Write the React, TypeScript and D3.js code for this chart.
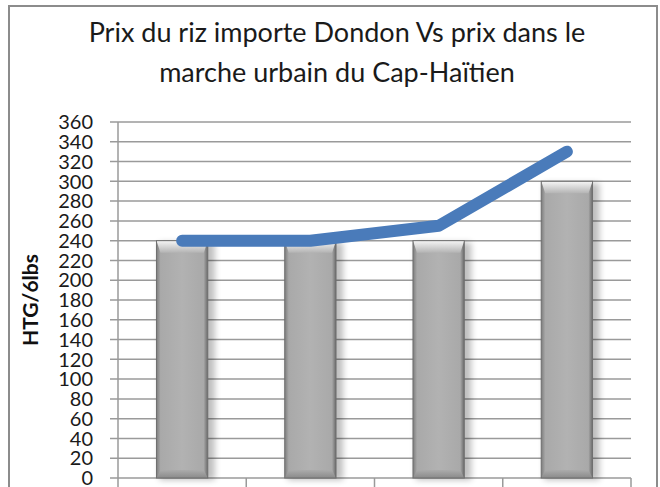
import React from "react";
import * as d3 from "d3";

const categories = ["A", "B", "C", "D"];
const barValues = [240, 240, 240, 300];
const lineValues = [240, 240, 255, 330];
const yTicks = d3.range(0, 361, 20);
const titleLines = ["Prix du riz importe Dondon Vs prix dans le", "marche urbain du Cap-Haïtien"];
const yLabel = "HTG/6lbs";

export default function App() {
  const W = 660, H = 487;
  const left = 118, right = 631, top = 122, bottom = 478;
  const x = d3.scaleBand().domain(categories).range([left, right]).paddingInner(0.6).paddingOuter(0.3);
  const xb = d3.scaleBand().domain(categories).range([left, right]);
  const y = d3.scaleLinear().domain([0, 360]).range([bottom, top]);
  const line = d3.line<number>().x((_, i) => (xb(categories[i]) as number) + xb.bandwidth() / 2).y((d) => y(d));
  const font = "Lato, 'Open Sans', sans-serif";
  return (
    <svg width={W} height={H} style={{ position: "absolute", left: 0, top: 0 }}>
      <defs>
        <linearGradient id="bh" x1="0" x2="1" y1="0" y2="0">
          <stop offset="0" stopColor="#7d7d7d" />
          <stop offset="0.08" stopColor="#a9a9a9" />
          <stop offset="0.5" stopColor="#b2b2b2" />
          <stop offset="0.92" stopColor="#a9a9a9" />
          <stop offset="1" stopColor="#6a6a6a" />
        </linearGradient>
        <linearGradient id="bt" x1="0" x2="0" y1="0" y2="1">
          <stop offset="0" stopColor="#f6f6f6" />
          <stop offset="1" stopColor="#b4b4b4" />
        </linearGradient>
        <linearGradient id="bb" x1="0" x2="0" y1="0" y2="1">
          <stop offset="0" stopColor="#ababab" />
          <stop offset="1" stopColor="#8a8a8a" />
        </linearGradient>
        <filter id="sh" x="-20%" y="-5%" width="150%" height="110%">
          <feGaussianBlur stdDeviation="3" />
        </filter>
      </defs>
      <rect x={0} y={0} width={W} height={H} fill="#fff" />
      <rect x={9} y={6} width={648} height={500} fill="none" stroke="#8c8c8c" strokeWidth={2} />
      {titleLines.map((t, i) => (
        <text key={i} x={337} y={42 + i * 40} textAnchor="middle" fontFamily={font} fontSize={27} fill="#1a1a1a">{t}</text>
      ))}
      {yTicks.map((t) => (
        <g key={t}>
          <line x1={110} x2={right} y1={y(t)} y2={y(t)} stroke="#9a9a9a" strokeWidth={1.5} />
          <text x={93} y={y(t)} dy="0.36em" textAnchor="end" fontFamily={font} fontSize={20} fill="#1a1a1a">{t}</text>
        </g>
      ))}
      <line x1={left} x2={left} y1={top} y2={H} stroke="#9a9a9a" strokeWidth={1.5} />
      {categories.map((c) => (
        <line key={c} x1={(xb(c) as number) + xb.bandwidth()} x2={(xb(c) as number) + xb.bandwidth()} y1={bottom} y2={H} stroke="#9a9a9a" strokeWidth={1.5} />
      ))}
      <text transform={`translate(38,300) rotate(-90)`} textAnchor="middle" fontFamily={font} fontSize={21} fontWeight="bold" fill="#111">{yLabel}</text>
      {categories.map((c, i) => {
        const bx = x(c) as number;
        const bw = x.bandwidth();
        const by = y(barValues[i]);
        const bh = bottom - by;
        const bev = 12, sb = 4;
        return (
          <g key={c}>
            <rect x={bx + 3} y={by + 2} width={bw + 4} height={bh} fill="#000" opacity={0.25} filter="url(#sh)" />
            <rect x={bx} y={by} width={bw} height={bh} fill="url(#bh)" />
            <polygon points={`${bx},${by} ${bx + bw},${by} ${bx + bw - sb},${by + bev} ${bx + sb},${by + bev}`} fill="url(#bt)" />
            <polygon points={`${bx},${bottom} ${bx + bw},${bottom} ${bx + bw - sb},${bottom - 8} ${bx + sb},${bottom - 8}`} fill="url(#bb)" />
            <rect x={bx} y={by} width={bw} height={bh} fill="none" stroke="#6f6f6f" strokeWidth={1} />
          </g>
        );
      })}
      <path d={line(lineValues) as string} fill="none" stroke="#4a7bba" strokeWidth={12} strokeLinecap="round" strokeLinejoin="round" />
    </svg>
  );
}
